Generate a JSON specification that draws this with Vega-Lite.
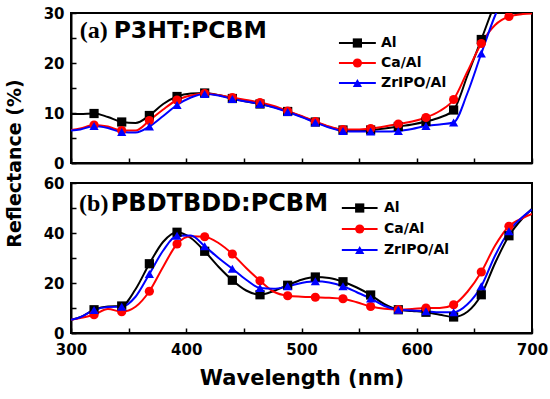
{
  "$schema": "https://vega.github.io/schema/vega-lite/v6.json",
  "background": "white",
  "padding": {"left": 6, "top": 5, "right": 2, "bottom": 2},
  "title": {"text": "Reflectance (%)", "orient": "left", "anchor": "middle", "font": "DejaVu Sans", "fontSize": 19, "fontWeight": "bold", "color": "black", "offset": 17, "dx": 33.5},
  "datasets": {
    "a": [
      {"s":"Al","wl":300,"r":9.8},{"s":"Al","wl":308,"r":9.8},{"s":"Al","wl":320,"r":9.9},{"s":"Al","wl":332,"r":9.2},{"s":"Al","wl":344,"r":8.2},{"s":"Al","wl":356,"r":8.0},{"s":"Al","wl":368,"r":9.5},{"s":"Al","wl":380,"r":11.8},{"s":"Al","wl":392,"r":13.3},{"s":"Al","wl":404,"r":13.9},{"s":"Al","wl":416,"r":14.0},{"s":"Al","wl":428,"r":13.6},{"s":"Al","wl":440,"r":12.9},{"s":"Al","wl":452,"r":12.3},{"s":"Al","wl":464,"r":11.8},{"s":"Al","wl":476,"r":11.2},{"s":"Al","wl":488,"r":10.3},{"s":"Al","wl":500,"r":9.3},{"s":"Al","wl":512,"r":8.2},{"s":"Al","wl":524,"r":7.2},{"s":"Al","wl":536,"r":6.6},{"s":"Al","wl":548,"r":6.5},{"s":"Al","wl":560,"r":6.6},{"s":"Al","wl":572,"r":6.9},{"s":"Al","wl":584,"r":7.3},{"s":"Al","wl":596,"r":7.7},{"s":"Al","wl":608,"r":8.3},{"s":"Al","wl":620,"r":9.1},{"s":"Al","wl":632,"r":10.6},{"s":"Al","wl":644,"r":17.5},{"s":"Al","wl":656,"r":24.7},{"s":"Al","wl":668,"r":32},{"s":"Al","wl":680,"r":38},{"s":"Al","wl":692,"r":42},{"s":"Al","wl":700,"r":44},
      {"s":"Ca/Al","wl":300,"r":6.6},{"s":"Ca/Al","wl":308,"r":6.9},{"s":"Ca/Al","wl":320,"r":7.6},{"s":"Ca/Al","wl":332,"r":7.3},{"s":"Ca/Al","wl":344,"r":6.5},{"s":"Ca/Al","wl":356,"r":6.5},{"s":"Ca/Al","wl":368,"r":8.5},{"s":"Ca/Al","wl":380,"r":10.7},{"s":"Ca/Al","wl":392,"r":12.6},{"s":"Ca/Al","wl":404,"r":13.5},{"s":"Ca/Al","wl":416,"r":13.9},{"s":"Ca/Al","wl":428,"r":13.6},{"s":"Ca/Al","wl":440,"r":13.1},{"s":"Ca/Al","wl":452,"r":12.6},{"s":"Ca/Al","wl":464,"r":12.1},{"s":"Ca/Al","wl":476,"r":11.4},{"s":"Ca/Al","wl":488,"r":10.4},{"s":"Ca/Al","wl":500,"r":9.4},{"s":"Ca/Al","wl":512,"r":8.3},{"s":"Ca/Al","wl":524,"r":7.3},{"s":"Ca/Al","wl":536,"r":6.7},{"s":"Ca/Al","wl":548,"r":6.7},{"s":"Ca/Al","wl":560,"r":6.9},{"s":"Ca/Al","wl":572,"r":7.3},{"s":"Ca/Al","wl":584,"r":7.8},{"s":"Ca/Al","wl":596,"r":8.3},{"s":"Ca/Al","wl":608,"r":9.1},{"s":"Ca/Al","wl":620,"r":10.4},{"s":"Ca/Al","wl":632,"r":12.7},{"s":"Ca/Al","wl":644,"r":18.3},{"s":"Ca/Al","wl":656,"r":23.9},{"s":"Ca/Al","wl":668,"r":27.6},{"s":"Ca/Al","wl":680,"r":29.3},{"s":"Ca/Al","wl":692,"r":29.8},{"s":"Ca/Al","wl":700,"r":29.9},
      {"s":"ZrIPO/Al","wl":300,"r":6.5},{"s":"ZrIPO/Al","wl":308,"r":6.7},{"s":"ZrIPO/Al","wl":320,"r":7.4},{"s":"ZrIPO/Al","wl":332,"r":7.0},{"s":"ZrIPO/Al","wl":344,"r":6.2},{"s":"ZrIPO/Al","wl":356,"r":6.1},{"s":"ZrIPO/Al","wl":368,"r":7.3},{"s":"ZrIPO/Al","wl":380,"r":9.4},{"s":"ZrIPO/Al","wl":392,"r":11.6},{"s":"ZrIPO/Al","wl":404,"r":13.1},{"s":"ZrIPO/Al","wl":416,"r":13.8},{"s":"ZrIPO/Al","wl":428,"r":13.5},{"s":"ZrIPO/Al","wl":440,"r":12.8},{"s":"ZrIPO/Al","wl":452,"r":12.3},{"s":"ZrIPO/Al","wl":464,"r":11.8},{"s":"ZrIPO/Al","wl":476,"r":11.1},{"s":"ZrIPO/Al","wl":488,"r":10.2},{"s":"ZrIPO/Al","wl":500,"r":9.2},{"s":"ZrIPO/Al","wl":512,"r":8.1},{"s":"ZrIPO/Al","wl":524,"r":7.1},{"s":"ZrIPO/Al","wl":536,"r":6.4},{"s":"ZrIPO/Al","wl":548,"r":6.3},{"s":"ZrIPO/Al","wl":560,"r":6.3},{"s":"ZrIPO/Al","wl":572,"r":6.3},{"s":"ZrIPO/Al","wl":584,"r":6.4},{"s":"ZrIPO/Al","wl":596,"r":6.8},{"s":"ZrIPO/Al","wl":608,"r":7.4},{"s":"ZrIPO/Al","wl":620,"r":7.7},{"s":"ZrIPO/Al","wl":632,"r":8.1},{"s":"ZrIPO/Al","wl":644,"r":14.0},{"s":"ZrIPO/Al","wl":656,"r":21.9},{"s":"ZrIPO/Al","wl":668,"r":29.5},{"s":"ZrIPO/Al","wl":680,"r":35},{"s":"ZrIPO/Al","wl":692,"r":39},{"s":"ZrIPO/Al","wl":700,"r":41}
    ],
    "b": [
      {"s":"Al","wl":300,"r":5.3},{"s":"Al","wl":308,"r":6.3},{"s":"Al","wl":320,"r":9.3},{"s":"Al","wl":332,"r":10.6},{"s":"Al","wl":344,"r":10.8},{"s":"Al","wl":356,"r":17.5},{"s":"Al","wl":368,"r":27.7},{"s":"Al","wl":380,"r":36.5},{"s":"Al","wl":392,"r":40.3},{"s":"Al","wl":404,"r":38.0},{"s":"Al","wl":416,"r":32.7},{"s":"Al","wl":428,"r":26.5},{"s":"Al","wl":440,"r":21.1},{"s":"Al","wl":452,"r":17.0},{"s":"Al","wl":464,"r":15.3},{"s":"Al","wl":476,"r":16.8},{"s":"Al","wl":488,"r":19.1},{"s":"Al","wl":500,"r":21.3},{"s":"Al","wl":512,"r":22.4},{"s":"Al","wl":524,"r":22.0},{"s":"Al","wl":536,"r":20.5},{"s":"Al","wl":548,"r":18.2},{"s":"Al","wl":560,"r":15.2},{"s":"Al","wl":572,"r":11.5},{"s":"Al","wl":584,"r":9.3},{"s":"Al","wl":596,"r":8.8},{"s":"Al","wl":608,"r":8.3},{"s":"Al","wl":620,"r":7.3},{"s":"Al","wl":632,"r":6.4},{"s":"Al","wl":644,"r":8.5},{"s":"Al","wl":656,"r":15.3},{"s":"Al","wl":668,"r":28.0},{"s":"Al","wl":680,"r":38.9},{"s":"Al","wl":692,"r":46.0},{"s":"Al","wl":700,"r":49.7},
      {"s":"Ca/Al","wl":300,"r":5.3},{"s":"Ca/Al","wl":308,"r":6.0},{"s":"Ca/Al","wl":320,"r":7.3},{"s":"Ca/Al","wl":332,"r":9.6},{"s":"Ca/Al","wl":344,"r":8.5},{"s":"Ca/Al","wl":356,"r":10.5},{"s":"Ca/Al","wl":368,"r":16.7},{"s":"Ca/Al","wl":380,"r":26.5},{"s":"Ca/Al","wl":392,"r":35.6},{"s":"Ca/Al","wl":404,"r":38.7},{"s":"Ca/Al","wl":416,"r":38.5},{"s":"Ca/Al","wl":428,"r":36.0},{"s":"Ca/Al","wl":440,"r":31.6},{"s":"Ca/Al","wl":452,"r":26.0},{"s":"Ca/Al","wl":464,"r":20.9},{"s":"Ca/Al","wl":476,"r":16.5},{"s":"Ca/Al","wl":488,"r":14.9},{"s":"Ca/Al","wl":500,"r":14.5},{"s":"Ca/Al","wl":512,"r":14.3},{"s":"Ca/Al","wl":524,"r":14.1},{"s":"Ca/Al","wl":536,"r":13.7},{"s":"Ca/Al","wl":548,"r":12.3},{"s":"Ca/Al","wl":560,"r":10.6},{"s":"Ca/Al","wl":572,"r":9.7},{"s":"Ca/Al","wl":584,"r":9.4},{"s":"Ca/Al","wl":596,"r":9.6},{"s":"Ca/Al","wl":608,"r":10.0},{"s":"Ca/Al","wl":620,"r":10.0},{"s":"Ca/Al","wl":632,"r":11.3},{"s":"Ca/Al","wl":644,"r":16.5},{"s":"Ca/Al","wl":656,"r":24.4},{"s":"Ca/Al","wl":668,"r":35.0},{"s":"Ca/Al","wl":680,"r":42.7},{"s":"Ca/Al","wl":692,"r":46.0},{"s":"Ca/Al","wl":700,"r":47.6},
      {"s":"ZrIPO/Al","wl":300,"r":5.3},{"s":"ZrIPO/Al","wl":308,"r":6.3},{"s":"ZrIPO/Al","wl":320,"r":9.2},{"s":"ZrIPO/Al","wl":332,"r":10.4},{"s":"ZrIPO/Al","wl":344,"r":10.5},{"s":"ZrIPO/Al","wl":356,"r":14.5},{"s":"ZrIPO/Al","wl":368,"r":23.6},{"s":"ZrIPO/Al","wl":380,"r":33.0},{"s":"ZrIPO/Al","wl":392,"r":38.9},{"s":"ZrIPO/Al","wl":404,"r":39.0},{"s":"ZrIPO/Al","wl":416,"r":34.7},{"s":"ZrIPO/Al","wl":428,"r":30.0},{"s":"ZrIPO/Al","wl":440,"r":25.7},{"s":"ZrIPO/Al","wl":452,"r":21.3},{"s":"ZrIPO/Al","wl":464,"r":18.0},{"s":"ZrIPO/Al","wl":476,"r":17.7},{"s":"ZrIPO/Al","wl":488,"r":18.7},{"s":"ZrIPO/Al","wl":500,"r":20.0},{"s":"ZrIPO/Al","wl":512,"r":20.7},{"s":"ZrIPO/Al","wl":524,"r":20.2},{"s":"ZrIPO/Al","wl":536,"r":18.7},{"s":"ZrIPO/Al","wl":548,"r":16.3},{"s":"ZrIPO/Al","wl":560,"r":13.8},{"s":"ZrIPO/Al","wl":572,"r":10.8},{"s":"ZrIPO/Al","wl":584,"r":9.3},{"s":"ZrIPO/Al","wl":596,"r":9.0},{"s":"ZrIPO/Al","wl":608,"r":8.7},{"s":"ZrIPO/Al","wl":620,"r":8.3},{"s":"ZrIPO/Al","wl":632,"r":8.3},{"s":"ZrIPO/Al","wl":644,"r":11.5},{"s":"ZrIPO/Al","wl":656,"r":18.7},{"s":"ZrIPO/Al","wl":668,"r":31.0},{"s":"ZrIPO/Al","wl":680,"r":40.7},{"s":"ZrIPO/Al","wl":692,"r":46.5},{"s":"ZrIPO/Al","wl":700,"r":49.4}
    ]
  },
  "config": {
    "font": "DejaVu Sans",
    "view": {"stroke": "black", "strokeWidth": 2},
    "axis": {
      "grid": false,
      "domainColor": "black",
      "domainWidth": 2,
      "tickColor": "black",
      "tickWidth": 1.5,
      "tickSize": -5,
      "labelFont": "DejaVu Sans",
      "labelFontWeight": "bold",
      "labelFontSize": 15,
      "labelColor": "black",
      "labelPadding": 12,
      "labelFlush": false,
      "titleFont": "DejaVu Sans",
      "titleFontWeight": "bold",
      "titleColor": "black"
    },
    "text": {"font": "DejaVu Sans", "fontWeight": "bold", "fontSize": 14, "align": "left", "baseline": "middle", "color": "black"},
    "rule": {"strokeWidth": 2},
    "point": {"filled": true, "size": 85, "opacity": 1}
  },
  "spacing": 3,
  "vconcat": [
    {
      "width": 461,
      "height": 150,
      "data": {"name": "a"},
      "encoding": {
        "x": {"field": "wl", "type": "quantitative", "scale": {"domain": [300, 700], "nice": false, "zero": false},
              "axis": {"values": [300,350,400,450,500,550,600,650,700], "labels": false, "title": null}},
        "y": {"field": "r", "type": "quantitative", "scale": {"domain": [0, 30], "nice": false},
              "axis": {"values": [0,5,10,15,20,25,30], "labelExpr": "datum.value % 10 === 0 ? datum.label : ''", "title": null}}
      },
      "layer": [
        {"mark": {"type": "line", "interpolate": "monotone", "strokeWidth": 2, "clip": true},
         "encoding": {"color": {"field": "s", "type": "nominal", "scale": {"domain": ["Al", "Ca/Al", "ZrIPO/Al"], "range": ["#000000", "#ff0000", "#0000ff"]}, "legend": null}}},
        {"transform": [{"filter": "(datum.wl - 320) % 24 === 0"}],
         "mark": {"type": "point", "clip": true},
         "encoding": {
           "color": {"field": "s", "type": "nominal", "scale": {"domain": ["Al", "Ca/Al", "ZrIPO/Al"], "range": ["#000000", "#ff0000", "#0000ff"]}, "legend": null},
           "shape": {"field": "s", "type": "nominal", "scale": {"domain": ["Al", "Ca/Al", "ZrIPO/Al"], "range": ["square", "circle", "triangle-up"]}, "legend": null}}},
        {"transform": [{"filter": "datum.wl === 300 && datum.s === 'Al'"}],
         "mark": {"type": "text", "font": "Liberation Serif", "fontSize": 24, "baseline": "alphabetic", "text": "(a)"},
         "encoding": {"x": {"datum": 307.5}, "y": {"datum": 25}}},
        {"transform": [{"filter": "datum.wl === 300 && datum.s === 'Al'"}],
         "mark": {"type": "text", "fontSize": 23.5, "baseline": "alphabetic", "text": "P3HT:PCBM"},
         "encoding": {"x": {"datum": 337}, "y": {"datum": 25}}},

        {"transform": [{"filter": "datum.wl === 300 && datum.s === 'Al'"}],
         "mark": {"type": "rule", "color": "#000000"},
         "encoding": {"x": {"datum": 532.5}, "x2": {"datum": 564.5}, "y": {"datum": 24}}},
        {"transform": [{"filter": "datum.wl === 300 && datum.s === 'Al'"}],
         "mark": {"type": "point", "shape": "square", "color": "#000000"},
         "encoding": {"x": {"datum": 548.5}, "y": {"datum": 24}}},
        {"transform": [{"filter": "datum.wl === 300 && datum.s === 'Al'"}],
         "mark": {"type": "text"},
         "encoding": {"x": {"datum": 569}, "y": {"datum": 24}, "text": {"field": "s"}}},

        {"transform": [{"filter": "datum.wl === 300 && datum.s === 'Ca/Al'"}],
         "mark": {"type": "rule", "color": "#ff0000"},
         "encoding": {"x": {"datum": 532.5}, "x2": {"datum": 564.5}, "y": {"datum": 20}}},
        {"transform": [{"filter": "datum.wl === 300 && datum.s === 'Ca/Al'"}],
         "mark": {"type": "point", "shape": "circle", "color": "#ff0000"},
         "encoding": {"x": {"datum": 548.5}, "y": {"datum": 20}}},
        {"transform": [{"filter": "datum.wl === 300 && datum.s === 'Ca/Al'"}],
         "mark": {"type": "text"},
         "encoding": {"x": {"datum": 569}, "y": {"datum": 20}, "text": {"field": "s"}}},

        {"transform": [{"filter": "datum.wl === 300 && datum.s === 'ZrIPO/Al'"}],
         "mark": {"type": "rule", "color": "#0000ff"},
         "encoding": {"x": {"datum": 532.5}, "x2": {"datum": 564.5}, "y": {"datum": 16}}},
        {"transform": [{"filter": "datum.wl === 300 && datum.s === 'ZrIPO/Al'"}],
         "mark": {"type": "point", "shape": "triangle-up", "color": "#0000ff"},
         "encoding": {"x": {"datum": 548.5}, "y": {"datum": 16}}},
        {"transform": [{"filter": "datum.wl === 300 && datum.s === 'ZrIPO/Al'"}],
         "mark": {"type": "text"},
         "encoding": {"x": {"datum": 569}, "y": {"datum": 16}, "text": {"field": "s"}}}
      ]
    },
    {
      "width": 461,
      "height": 150,
      "data": {"name": "b"},
      "encoding": {
        "x": {"field": "wl", "type": "quantitative", "scale": {"domain": [300, 700], "nice": false, "zero": false},
              "axis": {"values": [300,350,400,450,500,550,600,650,700], "labelExpr": "datum.value % 100 === 0 ? datum.label : ''",
                       "labelPadding": 14, "title": "Wavelength (nm)", "titleFontSize": 21, "titlePadding": 10}},
        "y": {"field": "r", "type": "quantitative", "scale": {"domain": [0, 60], "nice": false},
              "axis": {"values": [0,10,20,30,40,50,60], "labelExpr": "datum.value % 20 === 0 ? datum.label : ''", "title": null}}
      },
      "layer": [
        {"mark": {"type": "line", "interpolate": "monotone", "strokeWidth": 2, "clip": true},
         "encoding": {"color": {"field": "s", "type": "nominal", "scale": {"domain": ["Al", "Ca/Al", "ZrIPO/Al"], "range": ["#000000", "#ff0000", "#0000ff"]}, "legend": null}}},
        {"transform": [{"filter": "(datum.wl - 320) % 24 === 0"}],
         "mark": {"type": "point", "clip": true},
         "encoding": {
           "color": {"field": "s", "type": "nominal", "scale": {"domain": ["Al", "Ca/Al", "ZrIPO/Al"], "range": ["#000000", "#ff0000", "#0000ff"]}, "legend": null},
           "shape": {"field": "s", "type": "nominal", "scale": {"domain": ["Al", "Ca/Al", "ZrIPO/Al"], "range": ["square", "circle", "triangle-up"]}, "legend": null}}},
        {"transform": [{"filter": "datum.wl === 300 && datum.s === 'Al'"}],
         "mark": {"type": "text", "font": "Liberation Serif", "fontSize": 24, "baseline": "alphabetic", "text": "(b)"},
         "encoding": {"x": {"datum": 307}, "y": {"datum": 49}}},
        {"transform": [{"filter": "datum.wl === 300 && datum.s === 'Al'"}],
         "mark": {"type": "text", "fontSize": 24, "baseline": "alphabetic", "text": "PBDTBDD:PCBM"},
         "encoding": {"x": {"datum": 334.5}, "y": {"datum": 49}}},

        {"transform": [{"filter": "datum.wl === 300 && datum.s === 'Al'"}],
         "mark": {"type": "rule", "color": "#000000"},
         "encoding": {"x": {"datum": 535}, "x2": {"datum": 566}, "y": {"datum": 50}}},
        {"transform": [{"filter": "datum.wl === 300 && datum.s === 'Al'"}],
         "mark": {"type": "point", "shape": "square", "color": "#000000"},
         "encoding": {"x": {"datum": 550.5}, "y": {"datum": 50}}},
        {"transform": [{"filter": "datum.wl === 300 && datum.s === 'Al'"}],
         "mark": {"type": "text"},
         "encoding": {"x": {"datum": 571.5}, "y": {"datum": 50}, "text": {"field": "s"}}},

        {"transform": [{"filter": "datum.wl === 300 && datum.s === 'Ca/Al'"}],
         "mark": {"type": "rule", "color": "#ff0000"},
         "encoding": {"x": {"datum": 535}, "x2": {"datum": 566}, "y": {"datum": 41.6}}},
        {"transform": [{"filter": "datum.wl === 300 && datum.s === 'Ca/Al'"}],
         "mark": {"type": "point", "shape": "circle", "color": "#ff0000"},
         "encoding": {"x": {"datum": 550.5}, "y": {"datum": 41.6}}},
        {"transform": [{"filter": "datum.wl === 300 && datum.s === 'Ca/Al'"}],
         "mark": {"type": "text"},
         "encoding": {"x": {"datum": 571.5}, "y": {"datum": 41.6}, "text": {"field": "s"}}},

        {"transform": [{"filter": "datum.wl === 300 && datum.s === 'ZrIPO/Al'"}],
         "mark": {"type": "rule", "color": "#0000ff"},
         "encoding": {"x": {"datum": 535}, "x2": {"datum": 566}, "y": {"datum": 33.2}}},
        {"transform": [{"filter": "datum.wl === 300 && datum.s === 'ZrIPO/Al'"}],
         "mark": {"type": "point", "shape": "triangle-up", "color": "#0000ff"},
         "encoding": {"x": {"datum": 550.5}, "y": {"datum": 33.2}}},
        {"transform": [{"filter": "datum.wl === 300 && datum.s === 'ZrIPO/Al'"}],
         "mark": {"type": "text"},
         "encoding": {"x": {"datum": 571.5}, "y": {"datum": 33.2}, "text": {"field": "s"}}}
      ]
    }
  ]
}
